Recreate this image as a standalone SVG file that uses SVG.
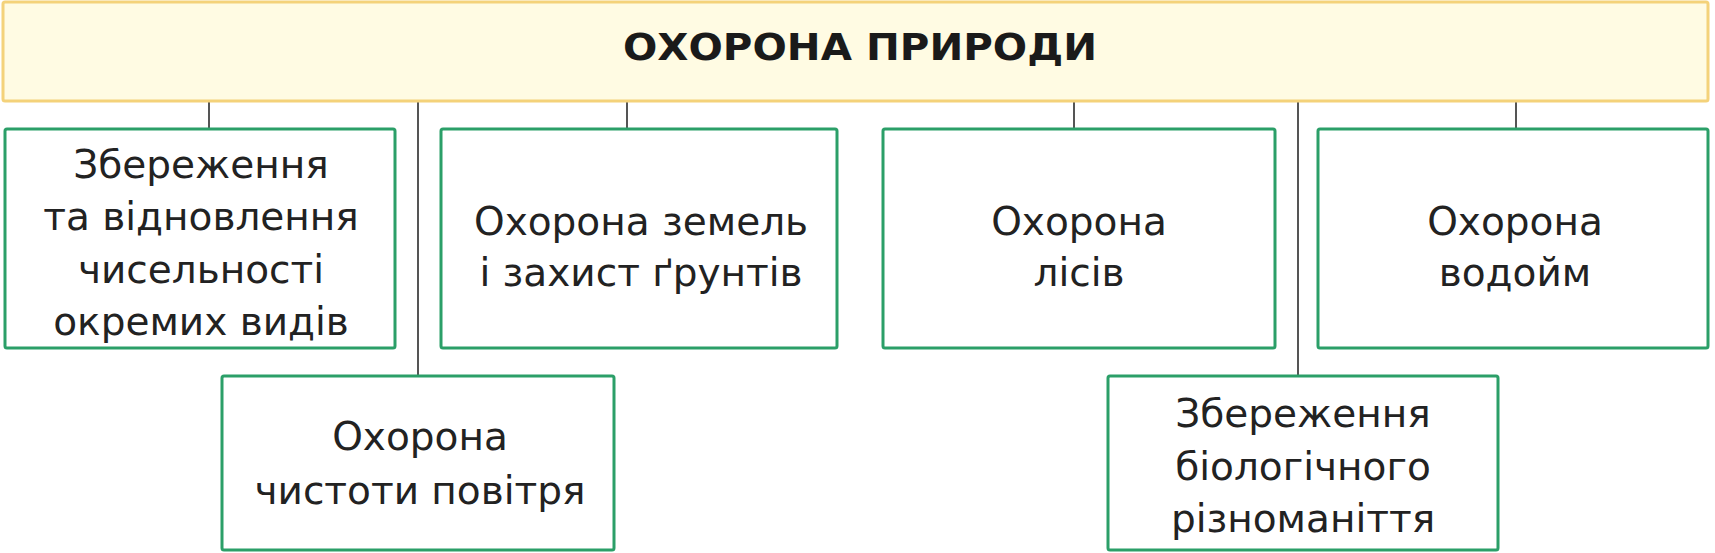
<svg xmlns="http://www.w3.org/2000/svg" width="1715" height="553" viewBox="0 0 1715 553">
<style>
.root{fill:#fffbe3;stroke:#f4d27a;stroke-width:3}
.box{fill:#ffffff;stroke:#2b9f68;stroke-width:3}
.title{font-family:"DejaVu Sans",sans-serif;font-weight:bold;font-size:37px;fill:#1a1a1a;text-anchor:middle}
.t{font-family:"DejaVu Sans",sans-serif;font-size:39px;fill:#222222;text-anchor:middle}
.c{stroke:#555555;stroke-width:2;fill:none}
</style>
<rect width="1715" height="553" fill="#ffffff"/>
<g id="connectors">
<line class="c" x1="209" y1="101" x2="209" y2="129"/>
<line class="c" x1="627" y1="101" x2="627" y2="129"/>
<line class="c" x1="1074" y1="101" x2="1074" y2="129"/>
<line class="c" x1="1516" y1="101" x2="1516" y2="129"/>
<line class="c" x1="418" y1="101" x2="418" y2="376"/>
<line class="c" x1="1298" y1="101" x2="1298" y2="376"/>
</g>
<g id="root">
<rect class="root" x="3" y="2" width="1705" height="99" rx="2"/>
<text class="title" x="860" y="60" textLength="474" lengthAdjust="spacingAndGlyphs">ОХОРОНА ПРИРОДИ</text>
</g>
<g id="n1">
<rect class="box" x="5" y="129" width="390" height="219" rx="2"/>
<text class="t" x="201" y="178">Збереження</text>
<text class="t" x="201" y="230">та відновлення</text>
<text class="t" x="201" y="283">чисельності</text>
<text class="t" x="201" y="335">окремих видів</text>
</g>
<g id="n2">
<rect class="box" x="441" y="129" width="396" height="219" rx="2"/>
<text class="t" x="641" y="235">Охорона земель</text>
<text class="t" x="641" y="286">і захист ґрунтів</text>
</g>
<g id="n3">
<rect class="box" x="883" y="129" width="392" height="219" rx="2"/>
<text class="t" x="1079" y="235">Охорона</text>
<text class="t" x="1079" y="286">лісів</text>
</g>
<g id="n4">
<rect class="box" x="1318" y="129" width="390" height="219" rx="2"/>
<text class="t" x="1515" y="235">Охорона</text>
<text class="t" x="1515" y="286">водойм</text>
</g>
<g id="n5">
<rect class="box" x="222" y="376" width="392" height="174" rx="2"/>
<text class="t" x="420" y="450">Охорона</text>
<text class="t" x="420" y="504">чистоти повітря</text>
</g>
<g id="n6">
<rect class="box" x="1108" y="376" width="390" height="174" rx="2"/>
<text class="t" x="1303" y="427">Збереження</text>
<text class="t" x="1303" y="480">біологічного</text>
<text class="t" x="1303" y="532">різноманіття</text>
</g>
</svg>
